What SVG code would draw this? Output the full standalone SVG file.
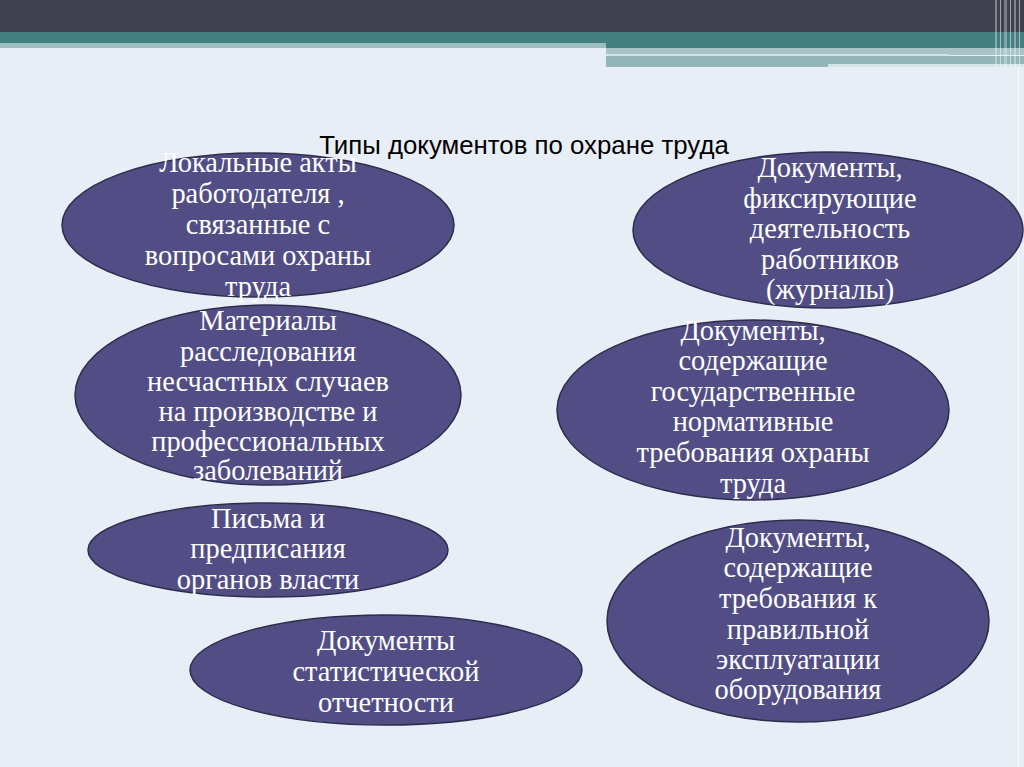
<svg xmlns="http://www.w3.org/2000/svg" width="1024" height="767" viewBox="0 0 1024 767">
<style>
.node ellipse{fill:#524e85;stroke:#2e2c4c;stroke-width:1.5}
.node text{font-family:"Liberation Serif","Times New Roman",serif;font-size:28.4px;fill:#ffffff;text-anchor:middle}
.title{font-family:"Liberation Sans",Arial,sans-serif;font-size:25.8px;fill:#000000;text-anchor:middle}
</style>
<rect x="0" y="0" width="1024" height="767" fill="#e8eef5"/>
<g id="header">
<rect x="0" y="0" width="1024" height="32" fill="#40414f"/>
<rect x="0" y="32" width="1024" height="16" fill="#447f80"/>
<rect x="0" y="43" width="606" height="5" fill="#9dbfc0"/>
<rect x="606" y="48" width="418" height="7" fill="#a8c4c6"/>
<rect x="606" y="54" width="344" height="2" fill="#d2e2e5"/>
<rect x="606" y="56" width="418" height="8" fill="#95b6b8"/>
<rect x="606" y="64" width="222" height="3" fill="#95b6b8"/>
<rect x="828" y="64" width="196" height="3" fill="#d6e6e6"/>
<rect x="995" y="0" width="2" height="67" fill="#ffffff" opacity="0.35"/>
<rect x="1000" y="0" width="1" height="67" fill="#ffffff" opacity="0.5"/>
<rect x="1004" y="0" width="3" height="67" fill="#ffffff" opacity="0.3"/>
<rect x="1010" y="0" width="1" height="67" fill="#ffffff" opacity="0.5"/>
<rect x="1014" y="0" width="2" height="67" fill="#ffffff" opacity="0.35"/>
<rect x="1019" y="0" width="1" height="67" fill="#ffffff" opacity="0.5"/>
<rect x="1018" y="67" width="1" height="700" fill="#f6f9fb"/>
</g>
<text class="title" x="524" y="154">Типы документов по охране труда</text>
<g id="connectors"></g>
<g id="n1" class="node">
<ellipse cx="258" cy="225" rx="196" ry="72"/>
<text x="258" y="172">Локальные акты</text>
<text x="258" y="203">работодателя ,</text>
<text x="258" y="234">связанные с</text>
<text x="258" y="265">вопросами охраны</text>
<text x="258" y="296">труда</text>
</g>
<g id="n2" class="node">
<ellipse cx="268" cy="395" rx="193" ry="90"/>
<text x="268" y="330">Материалы</text>
<text x="268" y="361">расследования</text>
<text x="268" y="391">несчастных случаев</text>
<text x="268" y="421">на производстве и</text>
<text x="268" y="451">профессиональных</text>
<text x="268" y="480">заболеваний</text>
</g>
<g id="n3" class="node">
<ellipse cx="268" cy="550" rx="180" ry="47"/>
<text x="268" y="528">Письма и</text>
<text x="268" y="558">предписания</text>
<text x="268" y="589">органов власти</text>
</g>
<g id="n4" class="node">
<ellipse cx="386" cy="670" rx="196" ry="55"/>
<text x="386" y="650">Документы</text>
<text x="386" y="681">статистической</text>
<text x="386" y="712">отчетности</text>
</g>
<g id="n5" class="node">
<ellipse cx="828" cy="230" rx="195" ry="78"/>
<text x="830" y="177">Документы,</text>
<text x="830" y="208">фиксирующие</text>
<text x="830" y="238">деятельность</text>
<text x="830" y="269">работников</text>
<text x="830" y="299">(журналы)</text>
</g>
<g id="n6" class="node">
<ellipse cx="753" cy="410" rx="196" ry="90"/>
<text x="753" y="340">Документы,</text>
<text x="753" y="370">содержащие</text>
<text x="753" y="401">государственные</text>
<text x="753" y="431">нормативные</text>
<text x="753" y="462">требования охраны</text>
<text x="753" y="493">труда</text>
</g>
<g id="n7" class="node">
<ellipse cx="798" cy="621" rx="191" ry="101"/>
<text x="798" y="547">Документы,</text>
<text x="798" y="577">содержащие</text>
<text x="798" y="608">требования к</text>
<text x="798" y="639">правильной</text>
<text x="798" y="669">эксплуатации</text>
<text x="798" y="699">оборудования</text>
</g>
</svg>
